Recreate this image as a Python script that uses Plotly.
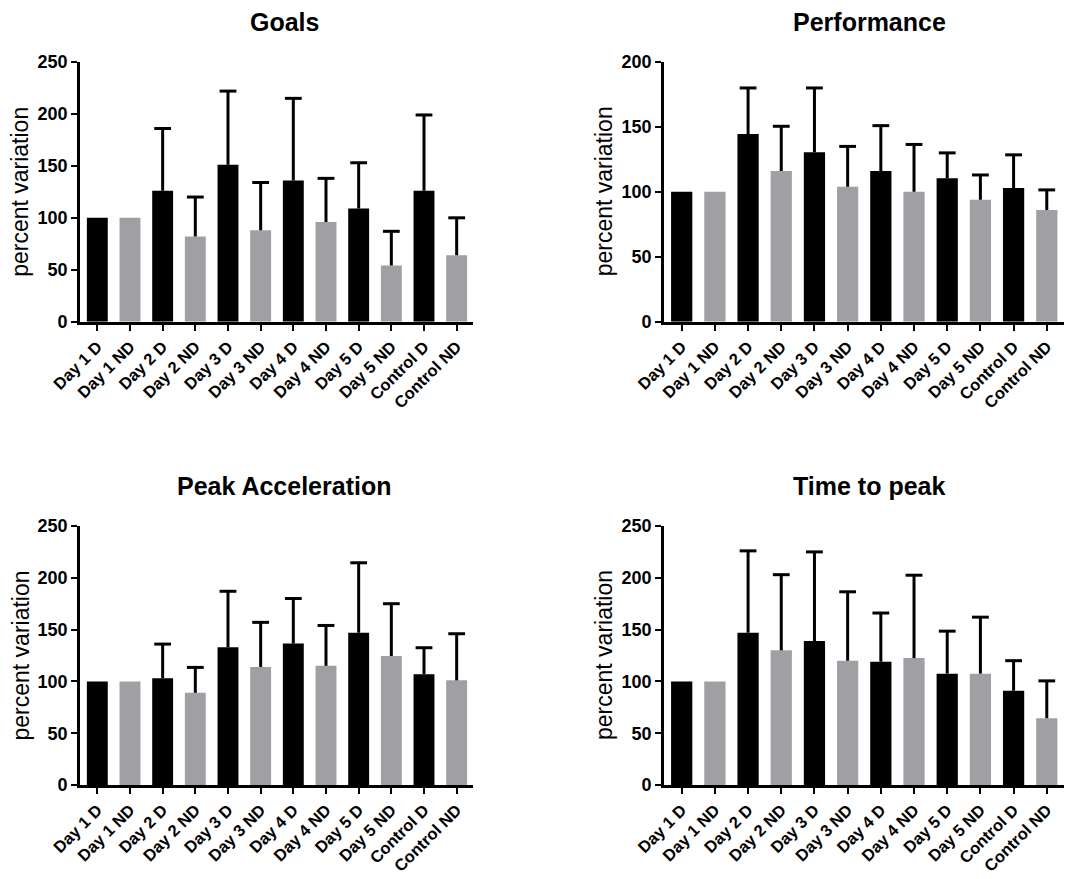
import plotly.graph_objects as go

categories = ["Day 1 D", "Day 1 ND", "Day 2 D", "Day 2 ND", "Day 3 D", "Day 3 ND",
              "Day 4 D", "Day 4 ND", "Day 5 D", "Day 5 ND", "Control D", "Control ND"]

# bar means and upper error-bar ends (mean + SD)
goals_mean = [100, 100, 126, 82, 151, 88, 136, 96, 109, 54, 126, 64]
goals_top = [100, 100, 186, 120, 222, 134, 215, 138, 153, 87, 199, 100]

perf_mean = [100, 100, 144.5, 116, 130.5, 104, 116, 100, 110.5, 94, 103, 86]
perf_top = [100, 100, 180, 150.5, 180, 135, 151, 136.5, 130, 113, 128.5, 101.5]

acc_mean = [100, 100, 103, 89, 133, 114, 136.5, 115, 147, 124.5, 107, 101]
acc_top = [100, 100, 136, 113.5, 187, 157, 180, 154, 214.5, 175, 132.5, 146]

ttp_mean = [100, 100, 147, 130, 139, 120, 119, 122.5, 107.5, 107.5, 91, 64.5]
ttp_top = [100, 100, 226, 203, 225, 186.5, 166, 202.5, 148.5, 162, 120, 100.5]

titles = ["Goals", "Performance", "Peak Acceleration", "Time to peak"]
y_max = [250, 200, 250, 250]
y_title = "percent variation"

BLACK = "#000000"
GRAY = "#a0a0a4"
colors = [BLACK if c.endswith(" D") else GRAY for c in categories]

# the page body adds an 8px margin; work in page pixels and subtract it
OFF = 8
PAGE_W, PAGE_H = 1072, 879
W, H = PAGE_W - OFF, PAGE_H - OFF
FONT = "Liberation Sans, Arial, Helvetica, sans-serif"


def px(x):
    return (x - OFF) / W


def py(y):
    return 1 - (y - OFF) / H


# panel geometry in page pixels: (x0, x1, ytop, ybottom)
panels = [
    (80, 473, 62, 321.7),
    (664, 1072, 62, 321.7),
    (80, 473, 526, 785),
    (664, 1072, 526, 785),
]
x_ranges = [[-0.53, 11.5], [-0.533, 11.76], [-0.53, 11.5], [-0.533, 11.76]]
ytitle_x = [20, 603.5, 20, 603.5]
title_x = [284, 869, 284, 869]

data = [(goals_mean, goals_top), (perf_mean, perf_top), (acc_mean, acc_top), (ttp_mean, ttp_top)]

fig = go.Figure()
annotations = []
for i, ((mean, top), (x0, x1, yt, yb)) in enumerate(zip(data, panels)):
    sfx = "" if i == 0 else str(i + 1)
    xa, ya = "x" + sfx, "y" + sfx
    err = [t - m for t, m in zip(top, mean)]
    fig.add_trace(go.Bar(
        x=categories, y=mean, xaxis=xa, yaxis=ya,
        width=0.64,
        marker=dict(color=colors, line=dict(width=0)),
        error_y=dict(type="data", symmetric=False, array=err,
                     arrayminus=[0] * len(err), width=0, thickness=3, color=BLACK),
        showlegend=False, hoverinfo="x+y",
    ))
    # error-bar caps
    cap_x = [c for c, e in zip(categories, err) if e > 0]
    cap_y = [t for t, e in zip(top, err) if e > 0]
    fig.add_trace(go.Scatter(
        x=cap_x, y=cap_y, xaxis=xa, yaxis=ya, mode="markers",
        marker=dict(symbol="line-ew", size=12, line=dict(width=3, color=BLACK)),
        showlegend=False, hoverinfo="skip", cliponaxis=False,
    ))
    xdom = [px(x0), min(1.0, px(x1))]
    ydom = [py(yb), py(yt)]
    fig.layout["xaxis" + sfx] = dict(
        domain=xdom, anchor=ya, type="category", range=x_ranges[i],
        automargin=False,
        showline=True, linewidth=2.8, linecolor=BLACK,
        ticks="outside", ticklen=6, tickwidth=2.2, tickcolor=BLACK,
        tickangle=-45, showgrid=False, zeroline=False,
        tickfont=dict(family=FONT, size=16.5, color=BLACK, weight="bold"),
    )
    fig.layout["yaxis" + sfx] = dict(
        domain=ydom, anchor=xa, range=[0, y_max[i]], dtick=50,
        automargin=False,
        showline=True, linewidth=2.8, linecolor=BLACK,
        ticks="outside", ticklen=6, tickwidth=2.2, tickcolor=BLACK,
        showgrid=False, zeroline=False,
        tickfont=dict(family=FONT, size=18, color=BLACK, weight="bold"),
    )
    annotations.append(dict(
        text=titles[i], xref="paper", yref="paper",
        x=px(title_x[i]), y=py(yt - 40), xanchor="center", yanchor="middle",
        showarrow=False, font=dict(family=FONT, size=25, color=BLACK, weight="bold"),
    ))
    annotations.append(dict(
        text=y_title, xref="paper", yref="paper",
        x=px(ytitle_x[i]), y=py((yt + yb) / 2), xanchor="center", yanchor="middle",
        textangle=-90, showarrow=False,
        font=dict(family=FONT, size=23, color=BLACK),
    ))

fig.update_layout(
    template="none",
    width=W, height=H,
    margin=dict(l=0, r=0, t=0, b=0, autoexpand=False),
    paper_bgcolor="white", plot_bgcolor="white",
    annotations=annotations,
    bargap=0.36,
)

fig.write_html("out.html")
